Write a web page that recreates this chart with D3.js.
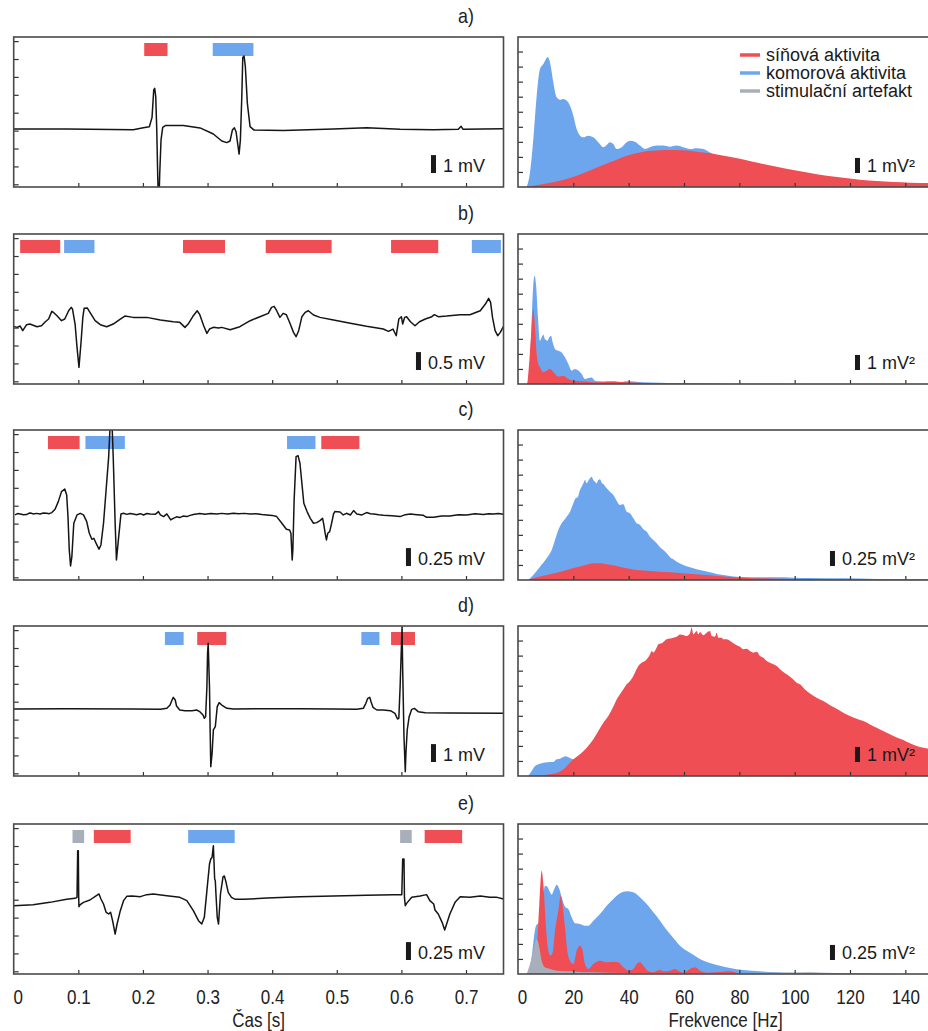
<!DOCTYPE html>
<html>
<head>
<meta charset="utf-8">
<script src="https://cdn.jsdelivr.net/npm/d3@7"></script>
<style>
  body { margin: 0; background: #fff; }
  text { font-family: "Liberation Sans", Arial, sans-serif; }
</style>
</head>
<body>
<svg id="fig" width="928" height="1031"></svg>
<script>
// ---- data ----
var panelNames = ["a)", "b)", "c)", "d)", "e)"];
var timeTicks = [0, 0.1, 0.2, 0.3, 0.4, 0.5, 0.6, 0.7];
var freqTicks = [0, 20, 40, 60, 80, 100, 120, 140];
var ecgUnits = [1, 0.5, 0.25, 1, 0.25];           // mV per scale bar
var ecgUnitLabels = ["1 mV", "0.5 mV", "0.25 mV", "1 mV", "0.25 mV"];
var specUnits = [1, 1, 0.25, 1, 0.25];            // mV² per scale bar
var specUnitLabels = ["1 mV²", "1 mV²", "0.25 mV²", "1 mV²", "0.25 mV²"];
var legendLabels = ["síňová aktivita", "komorová aktivita", "stimulační artefakt"];
var kinds = ["atrial", "ventr", "stim"];

// ECG traces [time s, voltage mV]
var ecgA = [[0,0],[0.082,0],[0.185,-0.04],[0.2006,0.07],[0.2099,0.13],[0.2141,0.65],[0.2167,2.18],[0.2182,2.27],[0.2198,1.81],[0.2214,-0.06],[0.2229,-2.66],[0.2245,-4.5],[0.226,-2.48],[0.228,-0.61],[0.2306,0.09],[0.2353,0.2],[0.2625,0.19],[0.2884,0.06],[0.309,-0.28],[0.322,-0.67],[0.3297,-0.76],[0.3348,-0.67],[0.3384,-0.06],[0.3415,0.07],[0.3441,-0.15],[0.3462,-0.71],[0.3488,-1.4],[0.3508,-0.61],[0.353,1.81],[0.3545,4.0],[0.3565,4.08],[0.3585,3.48],[0.3616,1.43],[0.3658,0.13],[0.372,-0.06],[0.4173,-0.09],[0.4948,0],[0.5464,0.07],[0.598,-0.02],[0.6495,-0.04],[0.688,-0.02],[0.6924,0.15],[0.6955,-0.02],[0.758,0.02]];
var ecgB = [[0.000,-0.065],[0.005,-0.093],[0.010,-0.056],[0.014,-0.186],[0.020,-0.019],[0.025,0],[0.036,-0.074],[0.043,-0.047],[0.049,0.065],[0.054,0.140],[0.059,0.354],[0.062,0.317],[0.067,0.233],[0.074,0.093],[0.079,0.140],[0.085,0.372],[0.089,0.466],[0.091,0.419],[0.095,0],[0.098,-0.652],[0.101,-1.210],[0.104,-0.559],[0.107,0.186],[0.109,0.438],[0.114,0.447],[0.118,0.326],[0.126,0.093],[0.134,-0.019],[0.144,-0.074],[0.154,0],[0.165,0.140],[0.172,0.223],[0.185,0.186],[0.206,0.186],[0.227,0.112],[0.247,0.065],[0.257,0.047],[0.265,-0.093],[0.270,0],[0.278,0.233],[0.284,0.372],[0.288,0.261],[0.294,-0.047],[0.299,-0.261],[0.303,-0.140],[0.309,-0.093],[0.317,-0.112],[0.322,-0.093],[0.335,-0.158],[0.350,-0.074],[0.366,0.093],[0.381,0.205],[0.394,0.298],[0.399,0.466],[0.403,0.493],[0.407,0.372],[0.412,0.186],[0.417,0.298],[0.422,0.261],[0.428,0],[0.433,-0.233],[0.437,-0.354],[0.441,-0.186],[0.446,0.205],[0.451,0.326],[0.456,0.372],[0.464,0.251],[0.474,0.186],[0.495,0.112],[0.521,0.019],[0.546,-0.065],[0.572,-0.140],[0.580,-0.205],[0.587,-0.140],[0.592,-0.326],[0.594,-0.093],[0.596,0.140],[0.600,0.205],[0.602,0],[0.605,0.186],[0.608,0.205],[0.614,0.065],[0.621,-0.047],[0.628,0.065],[0.637,0.140],[0.647,0.205],[0.651,0.261],[0.657,0.205],[0.670,0.223],[0.691,0.261],[0.706,0.261],[0.722,0.372],[0.730,0.559],[0.735,0.717],[0.738,0.605],[0.741,0.186],[0.745,-0.186],[0.749,-0.326],[0.753,-0.233],[0.758,-0.065]];
var ecgC = [[0.002,-0.014],[0.006,0.005],[0.010,0],[0.015,-0.012],[0.020,-0.009],[0.024,0.012],[0.028,0.009],[0.030,0],[0.035,0.008],[0.041,0],[0.046,0.012],[0.051,0.009],[0.055,0.004],[0.059,0.019],[0.064,0.065],[0.069,0.172],[0.074,0.312],[0.079,0.349],[0.082,0.265],[0.084,-0.037],[0.086,-0.503],[0.088,-0.726],[0.090,-0.596],[0.093,-0.130],[0.098,-0.014],[0.103,0.009],[0.108,-0.014],[0.113,-0.107],[0.117,-0.270],[0.121,-0.354],[0.124,-0.340],[0.128,-0.419],[0.132,-0.493],[0.135,-0.433],[0.139,-0.130],[0.143,0.335],[0.147,0.801],[0.149,1.196],[0.152,1.30],[0.154,0.801],[0.157,-0.130],[0.159,-0.642],[0.162,-0.363],[0.166,0],[0.170,0.009],[0.175,-0.006],[0.180,0.006],[0.185,0],[0.190,-0.01],[0.196,0.004],[0.201,-0.014],[0.206,0.006],[0.211,0],[0.219,-0.005],[0.224,0.033],[0.227,-0.014],[0.232,-0.037],[0.237,0],[0.243,-0.084],[0.247,-0.061],[0.252,-0.040],[0.257,-0.051],[0.262,-0.030],[0.268,-0.037],[0.273,-0.020],[0.278,-0.009],[0.283,-0.002],[0.288,0.005],[0.296,-0.004],[0.305,0.006],[0.314,0],[0.322,0.008],[0.331,-0.002],[0.340,0.009],[0.348,0.002],[0.357,0.008],[0.366,0],[0.375,0.004],[0.384,-0.008],[0.392,-0.014],[0.400,-0.020],[0.407,-0.037],[0.415,-0.130],[0.422,-0.214],[0.427,-0.223],[0.429,-0.270],[0.431,-0.642],[0.432,-0.503],[0.434,0.196],[0.437,0.801],[0.440,0.815],[0.443,0.708],[0.446,0.428],[0.449,0.149],[0.454,0.033],[0.459,-0.061],[0.464,-0.130],[0.469,-0.121],[0.474,-0.093],[0.478,-0.061],[0.480,-0.154],[0.482,-0.270],[0.484,-0.363],[0.486,-0.270],[0.489,-0.247],[0.492,-0.130],[0.495,0],[0.497,0.033],[0.505,0.028],[0.510,-0.014],[0.515,0.009],[0.521,-0.014],[0.526,0.047],[0.531,0],[0.539,-0.014],[0.546,0.019],[0.552,0.004],[0.557,0],[0.565,-0.012],[0.572,-0.019],[0.585,-0.026],[0.598,-0.037],[0.606,-0.010],[0.614,0],[0.624,-0.010],[0.634,-0.019],[0.639,-0.047],[0.650,-0.047],[0.662,-0.030],[0.675,-0.028],[0.688,-0.012],[0.701,-0.014],[0.714,0.002],[0.727,-0.009],[0.735,0.004],[0.743,0],[0.750,0.006],[0.758,-0.005]];
var ecgD = [[0,0],[0.082,0.019],[0.185,0],[0.227,-0.019],[0.237,0.037],[0.242,0.223],[0.245,0.503],[0.247,0.652],[0.250,0.503],[0.252,0.168],[0.257,-0.056],[0.265,-0.093],[0.276,-0.093],[0.283,-0.056],[0.288,-0.149],[0.293,-0.335],[0.295,-0.521],[0.297,-0.428],[0.299,1.248],[0.300,3.110],[0.301,3.669],[0.303,1.248],[0.304,-1.173],[0.305,-3.222],[0.307,-2.477],[0.309,-1.173],[0.312,-0.987],[0.313,-0.615],[0.315,0.130],[0.318,0.354],[0.322,0.223],[0.330,0.037],[0.340,0],[0.392,0.019],[0.443,0.019],[0.495,0],[0.531,-0.019],[0.541,0.037],[0.545,0.317],[0.548,0.596],[0.551,0.652],[0.553,0.410],[0.556,0.093],[0.562,-0.056],[0.572,-0.056],[0.583,-0.093],[0.590,-0.242],[0.594,-0.559],[0.596,-0.521],[0.598,1.248],[0.600,3.482],[0.601,4.600],[0.602,2.179],[0.604,-1.546],[0.606,-3.501],[0.607,-2.477],[0.609,-1.173],[0.612,-0.428],[0.616,-0.019],[0.620,0.037],[0.626,-0.149],[0.637,-0.205],[0.675,-0.223],[0.758,-0.242]];
var ecgE = [[0,-0.093],[0.030,-0.079],[0.056,-0.047],[0.082,-0.005],[0.095,0.009],[0.098,0.023],[0.099,0.675],[0.100,0.675],[0.1006,0.023],[0.101,-0.107],[0.103,-0.079],[0.108,-0.047],[0.118,-0.014],[0.128,0.047],[0.132,0.070],[0.135,0],[0.139,-0.070],[0.143,-0.186],[0.147,-0.209],[0.150,-0.186],[0.153,-0.303],[0.157,-0.489],[0.160,-0.349],[0.165,-0.163],[0.170,-0.023],[0.175,0.037],[0.183,0.042],[0.196,0.033],[0.206,0.061],[0.216,0.070],[0.237,0.047],[0.257,0.023],[0.268,-0.023],[0.278,-0.163],[0.286,-0.303],[0.291,-0.349],[0.295,-0.256],[0.299,0.116],[0.303,0.489],[0.305,0.559],[0.307,0.582],[0.309,0.745],[0.311,0.279],[0.312,0.256],[0.313,0.070],[0.315,-0.256],[0.317,-0.349],[0.318,-0.209],[0.320,0.070],[0.324,0.312],[0.326,0.321],[0.328,0.256],[0.332,0.093],[0.337,0.023],[0.343,-0.005],[0.356,-0.005],[0.392,0.014],[0.443,0.033],[0.495,0.042],[0.546,0.051],[0.588,0.061],[0.6006,0.061],[0.602,0.559],[0.604,0.559],[0.6047,0.023],[0.606,-0.093],[0.608,-0.061],[0.616,0.023],[0.629,0.042],[0.639,0.061],[0.644,-0.023],[0.650,-0.070],[0.652,-0.154],[0.657,-0.209],[0.663,-0.326],[0.667,-0.433],[0.670,-0.349],[0.675,-0.209],[0.683,-0.047],[0.691,0.033],[0.706,0.023],[0.722,0.042],[0.737,0.023],[0.748,0.023],[0.758,0]];

// marked intervals [kind, start s, end s]
var marksA = [["atrial",0.202,0.238],["ventr",0.308,0.371]];
var marksB = [["atrial",0.010,0.072],["ventr",0.078,0.125],["atrial",0.262,0.327],["atrial",0.390,0.492],["atrial",0.584,0.657],["ventr",0.709,0.754]];
var marksC = [["atrial",0.053,0.102],["ventr",0.111,0.172],["ventr",0.423,0.467],["atrial",0.476,0.535]];
var marksD = [["ventr",0.234,0.263],["atrial",0.284,0.329],["ventr",0.538,0.566],["atrial",0.584,0.621]];
var marksE = [["stim",0.091,0.109],["atrial",0.124,0.181],["ventr",0.270,0.342],["stim",0.598,0.616],["atrial",0.636,0.694]];

// spectra [frequency Hz, power mV²]
var ventrA = [[3.13,0],[4.34,0.97],[5.54,3.19],[6.75,6.07],[7.95,7.84],[9.16,8.17],[10.12,8.50],[10.60,8.64],[11.21,8.50],[11.81,8.06],[12.77,6.95],[13.98,5.96],[15.18,5.80],[16.39,5.85],[17.59,5.74],[18.80,5.40],[20.00,4.74],[21.21,3.85],[22.41,3.41],[23.62,3.30],[25.42,3.41],[27.23,3.30],[29.04,2.97],[30.84,2.64],[32.05,2.79],[33.25,2.97],[34.46,2.86],[35.66,2.52],[37.47,2.64],[39.28,2.97],[40.48,3.08],[42.29,3.01],[44.10,2.75],[45.90,2.52],[47.71,2.64],[50.12,2.75],[52.53,2.75],[54.94,2.68],[57.35,2.75],[59.76,2.64],[62.17,2.52],[64.58,2.57],[66.99,2.52],[69.40,2.30],[75,1.9],[100,0.6],[150,0.1]];
var atrialA = [[3.13,0],[9.16,0.20],[15.18,0.42],[21.21,0.75],[27.23,1.20],[33.25,1.64],[39.28,2.08],[45.30,2.35],[51.33,2.44],[54.94,2.46],[59.76,2.44],[64.58,2.35],[69.40,2.24],[75.42,2.04],[81.45,1.82],[87.47,1.57],[93.50,1.35],[99.52,1.13],[105.54,0.93],[111.57,0.75],[117.59,0.62],[123.61,0.49],[129.64,0.40],[135.66,0.33],[141.69,0.29],[148.19,0.27],[150,0.26]];
var ventrB = [[3.38,0],[4.34,1.55],[5.06,4.87],[5.54,6.64],[6.03,7.20],[6.51,6.64],[7.23,4.43],[7.95,2.88],[8.56,3.10],[9.16,3.28],[9.76,2.99],[10.60,2.88],[11.33,3.10],[11.93,3.21],[12.53,2.77],[13.38,2.33],[14.58,2.21],[15.78,2.10],[16.99,1.77],[18.19,1.33],[19.40,0.89],[20.60,1.00],[21.81,0.89],[23.01,0.66],[24.22,0.33],[25.42,0.40],[26.63,0.44],[27.83,0.22],[29.64,0.18],[32.05,0.16],[34.46,0.18],[36.87,0.13],[39.28,0.18],[41.69,0.16],[45.30,0.11],[51.33,0.09],[57.35,0.07],[69.40,0.04],[93.50,0.02],[117.59,0],[150,0]];
var atrialB = [[3.38,0],[4.10,1.55],[4.94,3.77],[5.54,4.98],[6.15,3.77],[6.75,1.99],[7.35,1.33],[7.95,1.11],[9.16,0.78],[10.36,0.89],[11.33,1.00],[12.17,0.93],[13.38,0.66],[14.58,0.49],[16.39,0.55],[18.19,0.33],[20.00,0.22],[23.62,0.18],[28.43,0.11],[33.25,0.16],[39.28,0.11],[45.30,0.07],[57.35,0.04],[69.40,0.02],[80,0],[150,0]];
var ventrC = [[3.74,0],[5.54,0.083],[7.95,0.221],[10.36,0.360],[12.17,0.498],[13.38,0.664],[14.58,0.831],[15.78,0.941],[17.59,1.052],[18.80,1.135],[20.00,1.274],[20.84,1.357],[21.57,1.373],[22.41,1.495],[23.01,1.550],[23.62,1.606],[24.22,1.661],[24.82,1.606],[25.42,1.650],[26.03,1.689],[26.63,1.716],[27.23,1.661],[27.83,1.633],[28.43,1.606],[29.04,1.661],[29.64,1.672],[30.24,1.617],[30.84,1.595],[32.05,1.523],[33.25,1.467],[34.46,1.412],[35.66,1.318],[36.87,1.246],[38.07,1.257],[39.28,1.135],[40.48,1.107],[41.69,1.024],[42.89,0.941],[44.10,0.914],[45.30,0.842],[46.51,0.803],[47.71,0.720],[48.92,0.664],[50.12,0.609],[51.33,0.543],[52.53,0.498],[53.74,0.443],[54.94,0.377],[56.15,0.343],[57.35,0.305],[59.76,0.249],[62.17,0.210],[64.58,0.177],[66.99,0.155],[69.40,0.127],[71.81,0.100],[74.22,0.083],[76.63,0.066],[79.04,0.055],[81.45,0.050],[87.47,0.044],[93.50,0.044],[99.52,0.039],[105.54,0.033],[117.59,0.028],[129.64,0.017],[141.69,0.011],[150,0.01]];
var atrialC = [[3.74,0],[6.75,0.044],[11.57,0.094],[16.39,0.150],[21.21,0.210],[24.82,0.255],[27.23,0.277],[29.64,0.277],[32.05,0.260],[35.66,0.233],[39.28,0.194],[42.89,0.166],[47.71,0.150],[52.53,0.133],[57.35,0.122],[63.37,0.100],[69.40,0.078],[75.42,0.055],[81.45,0.039],[93.50,0.022],[105.54,0.017],[117.59,0.011],[150,0.005]];
var ventrD = [[3.74,0],[4.94,0.33],[6.15,0.66],[7.95,0.82],[9.76,0.89],[11.57,0.93],[12.77,0.93],[13.98,1.11],[15.18,1.15],[16.39,1.26],[17.23,1.31],[18.19,1.24],[19.40,1.15],[21.21,1.00],[23.62,0.78],[27.23,0.55],[30.24,0.44],[33.25,0.49],[35.66,0.51],[39.28,0.47],[45.30,0.40],[51.33,0.31],[57.35,0.22],[63.37,0.18],[69.40,0.11],[75.42,0.07],[81.45,0.02],[87.47,0],[150,0]];
var atrialD = [[4.34,0],[11.57,0.11],[16.39,0.44],[20.00,1.11],[22.41,1.44],[24.82,1.88],[27.23,2.44],[29.04,2.99],[30.84,3.54],[32.65,3.99],[34.46,4.61],[35.66,5.09],[36.87,5.43],[38.07,5.76],[39.28,6.09],[40.48,6.31],[41.69,6.64],[42.29,6.87],[43.49,7.31],[44.70,7.53],[45.90,7.64],[46.51,7.75],[47.71,8.08],[48.31,8.31],[48.92,8.20],[50.12,8.53],[50.72,8.75],[51.93,8.82],[52.53,8.90],[53.74,9.08],[54.94,9.13],[56.15,9.19],[57.35,9.26],[58.55,9.41],[59.76,9.37],[60.96,9.30],[62.17,9.48],[62.77,9.86],[63.37,9.41],[64.58,9.63],[65.18,9.41],[65.78,9.57],[66.99,9.35],[68.19,9.52],[69.40,9.63],[70.00,9.30],[71.20,9.26],[71.81,9.52],[72.41,9.19],[73.62,9.19],[74.22,9.08],[75.42,9.08],[76.63,8.97],[77.83,8.82],[79.04,8.68],[80.24,8.59],[81.45,8.42],[82.65,8.46],[83.86,8.31],[85.06,8.20],[86.27,8.26],[87.47,7.97],[88.68,7.86],[89.88,7.64],[91.09,7.53],[92.29,7.42],[93.50,7.31],[94.70,7.09],[95.90,6.91],[97.11,6.76],[98.31,6.60],[99.52,6.42],[100.72,6.20],[101.93,6.09],[103.13,5.87],[104.34,5.65],[105.54,5.49],[107.95,5.20],[110.36,4.98],[112.77,4.70],[115.18,4.47],[117.59,4.21],[120.00,3.99],[122.41,3.81],[124.82,3.65],[127.23,3.43],[129.64,3.21],[132.05,2.99],[134.46,2.77],[136.87,2.55],[139.28,2.39],[141.69,2.17],[144.10,1.99],[146.51,1.88],[148.19,1.82],[150,1.75]];
var ventrE = [[3.74,0],[4.94,0.277],[5.78,0.609],[6.51,0.803],[7.35,0.842],[8.56,0.997],[9.76,1.467],[10.60,1.451],[11.57,1.357],[12.17,1.318],[13.13,1.412],[13.98,1.484],[14.94,1.412],[15.78,1.274],[16.99,1.118],[18.19,1.080],[19.40,0.941],[20.60,0.842],[22.41,0.831],[24.22,0.803],[25.42,0.803],[27.23,0.886],[29.64,0.997],[32.05,1.135],[34.46,1.246],[36.87,1.340],[39.28,1.373],[41.69,1.357],[44.10,1.274],[46.51,1.163],[48.92,1.024],[51.33,0.886],[53.74,0.731],[56.15,0.598],[58.55,0.471],[60.96,0.388],[63.37,0.321],[65.78,0.249],[69.40,0.183],[73.01,0.138],[76.63,0.100],[81.45,0.066],[87.47,0.044],[93.50,0.028],[99.52,0.017],[105.54,0.022],[111.57,0.011],[117.59,0.006],[150,0]];
var atrialE = [[3.13,0],[5.54,0.055],[6.75,0.388],[7.71,1.163],[8.56,1.716],[9.16,1.495],[10.12,0.775],[10.97,0.388],[11.81,0.305],[12.53,0.360],[13.38,0.720],[14.58,1.052],[15.42,1.301],[16.15,1.135],[16.99,0.775],[17.83,0.388],[18.80,0.221],[20.00,0.166],[21.21,0.388],[22.41,0.471],[23.37,0.388],[24.22,0.166],[25.42,0.083],[27.23,0.166],[29.64,0.221],[32.05,0.194],[34.46,0.205],[36.27,0.194],[38.07,0.111],[39.88,0.055],[41.69,0.083],[42.89,0.166],[44.10,0.194],[45.30,0.138],[47.11,0.044],[48.92,0.028],[50.12,0.055],[51.33,0.066],[52.53,0.044],[54.94,0.055],[56.75,0.083],[57.95,0.055],[59.76,0.022],[62.17,0.083],[63.98,0.111],[65.78,0.055],[68.19,0.022],[71.81,0.028],[74.22,0.039],[76.63,0.044],[79.04,0.022],[81.45,0],[150,0]];
var stimE = [[3.13,0],[4.34,0.166],[5.54,0.388],[6.75,0.581],[7.71,0.443],[8.56,0.221],[9.76,0.111],[11.57,0.083],[13.98,0.055],[18.80,0.044],[23.62,0.028],[27.23,0.028],[33.25,0.022],[45.30,0.017],[69.40,0.011],[105.54,0.028],[117.59,0.011],[129.64,0.006],[150,0]];

var ecgs = [ecgA, ecgB, ecgC, ecgD, ecgE];
var marks = [marksA, marksB, marksC, marksD, marksE];
var spectra = [
  {ventr: ventrA, atrial: atrialA},
  {ventr: ventrB, atrial: atrialB},
  {ventr: ventrC, atrial: atrialC},
  {ventr: ventrD, atrial: atrialD},
  {ventr: ventrE, atrial: atrialE, stim: stimE}
];

// ---- layout ----
var colors = {atrial: "#ef4e54", ventr: "#6ea6ee", stim: "#a9afba"};
var panelTops = [37, 234, 430, 626, 824];
var ph = 150;
var L = {x0: 13.7, x1: 503.5};
var R = {x0: 518, x1: 933};
var ecgLo = [-3.24, -3.35, -3.69, -3.743, -4.19];   // panel bottom, in scale-bar units below the baseline
var tickPxL = 17.9, tickPxR = 15.05;
var squeeze = 0.85;   // narrow lettering for axis labels and panel names

var svg = d3.select("#fig");
var xTime = d3.scaleLinear().domain([0, 0.758]).range([L.x0, L.x1]);
var xFreq = d3.scaleLinear().domain([0, 150]).range([R.x0, R.x1]);

function narrowText(x, y, size, str) {
  svg.append("g").attr("transform", "translate(" + x + "," + y + ")")
    .append("text").attr("transform", "scale(" + squeeze + ",1)")
    .attr("text-anchor", "middle").attr("font-size", size).attr("fill", "#222")
    .text(str);
}

function scaleBar(g, yScale, lo, unit, label, xEnd, bottom) {
  var t = g.append("text")
    .attr("x", xEnd).attr("y", bottom - 15)
    .attr("text-anchor", "end").attr("font-size", 18).attr("fill", "#1a1a1a")
    .text(label);
  var w = t.node().getComputedTextLength();
  var h = yScale(lo) - yScale(lo + unit);
  g.append("rect")
    .attr("x", xEnd - w - 12).attr("width", 5)
    .attr("y", bottom - 14 - h).attr("height", h)
    .attr("fill", "#1a1a1a");
}

function styleTicks(g) {
  g.select(".domain").remove();
  g.selectAll("line").attr("stroke", "#333").attr("stroke-width", 1.2);
}

for (var i = 0; i < 5; i++) {
  var pTop = panelTops[i], pBot = pTop + ph;
  var u = ecgUnits[i], su = specUnits[i];

  narrowText(466, pTop - 14, 21, panelNames[i]);

  // ---- left: ECG ----
  var lo = ecgLo[i] * u;
  var yE = d3.scaleLinear().domain([lo, lo + ph / tickPxL * u]).range([pBot, pTop]);
  var gl = svg.append("g");
  gl.append("clipPath").attr("id", "cl" + i).append("rect")
    .attr("x", L.x0).attr("y", pTop).attr("width", L.x1 - L.x0).attr("height", ph);

  gl.selectAll("rect.mark").data(marks[i]).enter().append("rect")
    .attr("class", "mark")
    .attr("x", function (d) { return xTime(d[1]); })
    .attr("width", function (d) { return xTime(d[2]) - xTime(d[1]); })
    .attr("y", pTop + 6).attr("height", 13)
    .attr("fill", function (d) { return colors[d[0]]; });

  gl.append("path").datum(ecgs[i])
    .attr("clip-path", "url(#cl" + i + ")")
    .attr("fill", "none").attr("stroke", "#151515").attr("stroke-width", 1.5)
    .attr("stroke-linejoin", "round")
    .attr("d", d3.line().x(function (d) { return xTime(d[0]); }).y(function (d) { return yE(d[1]); }));

  var yTicksL = d3.range(9).map(function (k) { return lo + (0.15 + k) * u; });
  gl.append("g").attr("transform", "translate(" + L.x0 + ",0)")
    .call(d3.axisRight(yE).tickValues(yTicksL).tickSize(5).tickFormat(""))
    .call(styleTicks);
  gl.append("g").attr("transform", "translate(0," + pBot + ")")
    .call(d3.axisTop(xTime).tickValues(timeTicks.slice(1)).tickSize(4).tickFormat(""))
    .call(styleTicks);

  gl.append("rect").attr("x", L.x0).attr("y", pTop).attr("width", L.x1 - L.x0).attr("height", ph)
    .attr("fill", "none").attr("stroke", "#4a4a4a").attr("stroke-width", 1.6);
  scaleBar(gl, yE, lo, u, ecgUnitLabels[i], 485, pBot);

  // ---- right: spectra ----
  var yS = d3.scaleLinear().domain([0, ph / tickPxR * su]).range([pBot, pTop]);
  var gr = svg.append("g");
  gr.append("clipPath").attr("id", "cr" + i).append("rect")
    .attr("x", R.x0).attr("y", pTop).attr("width", R.x1 - R.x0).attr("height", ph);
  var area = d3.area().curve(d3.curveMonotoneX)
    .x(function (d) { return xFreq(d[0]); })
    .y0(pBot).y1(function (d) { return yS(d[1]); });
  ["ventr", "atrial", "stim"].forEach(function (k) {
    if (!spectra[i][k]) return;
    gr.append("path").datum(spectra[i][k])
      .attr("clip-path", "url(#cr" + i + ")")
      .attr("fill", colors[k]).attr("d", area);
  });

  var yTicksR = d3.range(1, 10).map(function (k) { return k * su; });
  gr.append("g").attr("transform", "translate(" + R.x0 + ",0)")
    .call(d3.axisRight(yS).tickValues(yTicksR).tickSize(5).tickFormat(""))
    .call(styleTicks);
  gr.append("g").attr("transform", "translate(0," + pBot + ")")
    .call(d3.axisTop(xFreq).tickValues(freqTicks.slice(1)).tickSize(4).tickFormat(""))
    .call(styleTicks);
  gr.append("rect").attr("x", R.x0).attr("y", pTop).attr("width", R.x1 - R.x0).attr("height", ph)
    .attr("fill", "none").attr("stroke", "#4a4a4a").attr("stroke-width", 1.6);
  scaleBar(gr, yS, 0, su, specUnitLabels[i], 915, pBot);

  // ---- bottom axis labels ----
  if (i === 4) {
    [[xTime, timeTicks, function (d) { return d === 0 ? "0" : d3.format(".1f")(d); }],
     [xFreq, freqTicks, d3.format("d")]].forEach(function (a) {
      svg.append("g").attr("transform", "translate(0," + pBot + ")")
        .call(d3.axisBottom(a[0]).tickValues(a[1]).tickSize(0).tickPadding(16).tickFormat(a[2]))
        .call(function (g) {
          g.select(".domain").remove();
          g.attr("font-family", null);
          g.selectAll("text").attr("font-size", 20).attr("fill", "#222")
            .attr("transform", "scale(" + squeeze + ",1)")
            .attr("dx", function (d) { return d === 0 ? 4 / squeeze : 0; });
        });
    });
    narrowText((L.x0 + L.x1) / 2, 1027, 20, "Čas [s]");
    narrowText((R.x0 + R.x1) / 2, 1027, 20, "Frekvence [Hz]");
  }
}

// ---- legend (panel a, right) ----
var leg = svg.append("g");
leg.selectAll("line").data(kinds).enter().append("line")
  .attr("x1", 740).attr("x2", 760)
  .attr("y1", function (d, j) { return 55 + j * 18; })
  .attr("y2", function (d, j) { return 55 + j * 18; })
  .attr("stroke", function (d) { return colors[d]; }).attr("stroke-width", 3.5);
leg.selectAll("text").data(legendLabels).enter().append("text")
  .attr("x", 766).attr("y", function (d, j) { return 61 + j * 18; })
  .attr("font-size", 18).attr("fill", "#1a1a1a")
  .text(function (d) { return d; });
</script>
</body>
</html>
